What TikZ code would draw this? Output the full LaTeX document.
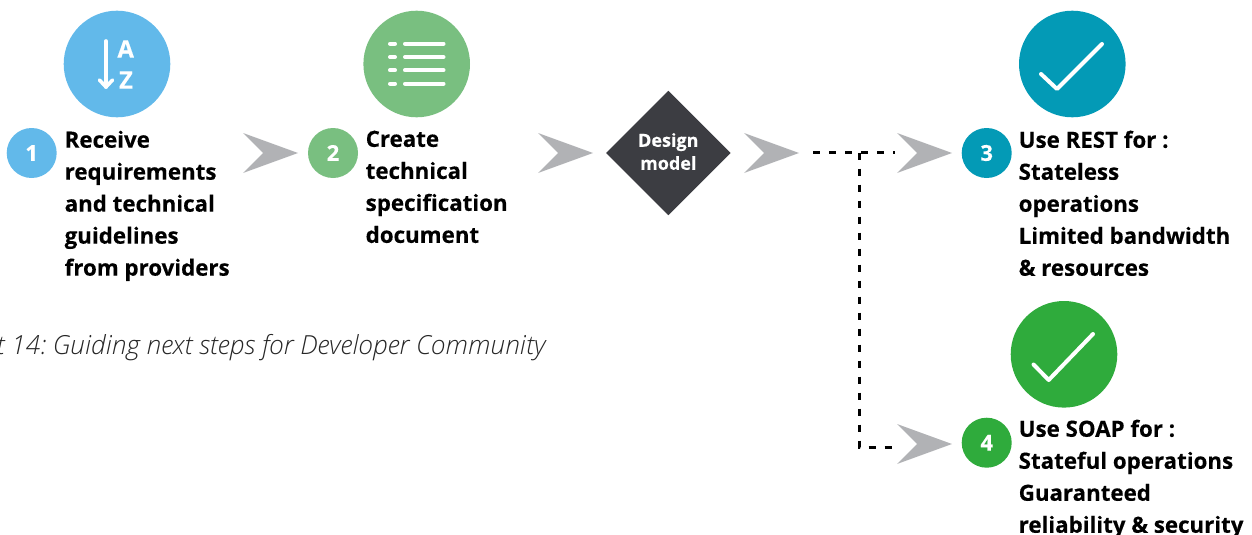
\documentclass[tikz,border=0pt]{standalone}
\usepackage{fontspec}
\setmainfont[BoldFeatures={FakeBold=0.25}]{Open Sans}
\newfontfamily\capfont{Open Sans Light}
\usetikzlibrary{shapes.geometric}
\definecolor{cblue}{HTML}{62B9EA}
\definecolor{cgreen}{HTML}{79BF80}
\definecolor{cteal}{HTML}{039AB6}
\definecolor{cvivid}{HTML}{2FAB3C}
\definecolor{cdark}{HTML}{3C3D42}
\definecolor{cgrey}{HTML}{B1B2B5}
\tikzset{
  x=1pt,y=-1pt,
  bigdot/.style={circle,draw=none,minimum size=106.6pt,inner sep=0pt},
  smalldot/.style={circle,draw=none,minimum size=50pt,inner sep=0pt,text=white,font=\fontsize{22}{26}\selectfont\bfseries},
  bodytext/.style={anchor=north west,inner sep=0pt,align=left,font=\fontsize{22.3}{32}\selectfont\bfseries,text=black},
  icon/.style={draw=white,line width=4pt,line cap=round,line join=round},
  iconletter/.style={text=white,inner sep=0pt,font=\fontsize{24}{30}\selectfont\bfseries},
  chevron/.pic={\fill[cgrey] (-55,0) ++(0,-20) -- (0,0) -- (-55,20) -- (-35,0) -- cycle;},
  dashline/.style={draw=black,line width=3pt,dash pattern=on 7pt off 9pt},
  decision/.style={diamond,fill=cdark,minimum width=124.6pt,minimum height=124.6pt,inner sep=0pt},
  decisionlabel/.style={text=white,inner sep=0pt,align=center,font=\fontsize{18}{23}\selectfont\bfseries},
}
\begin{document}
\begin{tikzpicture}
\useasboundingbox (0,0) rectangle (1252,535);
% big circles
\node[bigdot,fill=cblue] (b1) at (117,64) {};
\node[bigdot,fill=cgreen] (b2) at (416.7,64) {};
\node[bigdot,fill=cteal] (b3) at (1072.3,64) {};
\node[bigdot,fill=cvivid] (b4) at (1064,354.3) {};
% small circles
\node[smalldot,fill=cblue] (s1) at (31.7,153) {1};
\node[smalldot,fill=cgreen] (s2) at (333,153) {2};
\node[smalldot,fill=cteal] (s3) at (986.7,153) {3};
\node[smalldot,fill=cvivid] (s4) at (986.7,442.7) {4};
% icon 1
\draw[icon,line width=3.6pt] (106,41) -- (106,87);
\draw[icon,line width=3.6pt] (99.5,80) -- (106,87) -- (112.5,80);
\node[iconletter] (la) at (125.7,49) {A};
\node[iconletter] (lz) at (126,80) {Z};
% icon 2
\foreach \yy in {43.7,57,70.3,83.7}{
  \draw[icon] (405,\yy) -- (443.5,\yy);
  \draw[icon] (390,\yy) -- (395,\yy);
}
% check marks
\draw[icon] (1041,74) -- (1057,89) -- (1102,44);
\draw[icon] (1033.5,364.5) -- (1048.7,380) -- (1093,334);
% texts
\node[bodytext] (t1) at (64.5,130.5) {Receive\\requirements\\and technical\\guidelines\\from providers};
\node[bodytext] (t2) at (365.5,130.5) {Create\\technical\\specification\\document};
\node[bodytext] (t3) at (1018.5,130.5) {Use REST for :\\Stateless\\operations\\Limited bandwidth\\\& resources};
\node[bodytext] (t4) at (1018.5,419.5) {Use SOAP for :\\Stateful operations\\Guaranteed\\reliability \& security};
\node[anchor=base east,inner sep=0pt,text=black!85,font=\fontsize{26.3}{30}\selectfont\capfont\itshape] (cap) at (546,354) {t 14:\kern-3pt{} Guiding next steps for Developer Community};
% diamond
\node[decision] (d) at (668.3,153) {};
\node[decisionlabel,yshift=1.5pt] (dl) at (d.center) {Design\\model};
% chevrons
\pic at (298,153) {chevron};
\pic at (593,153) {chevron};
\pic at (799,153) {chevron};
\pic at (952,153) {chevron};
\pic at (952,444) {chevron};
% dashed connectors
\coordinate (from) at (813,152.5);
\coordinate (top) at (895,152.5);
\coordinate (bot) at (895,447.5);
\coordinate (jn) at (859.5,152.5);
\draw[dashline] (from) -- (top);
\draw[dashline] (jn) -- (jn |- bot) -- (bot);
\end{tikzpicture}
\end{document}
